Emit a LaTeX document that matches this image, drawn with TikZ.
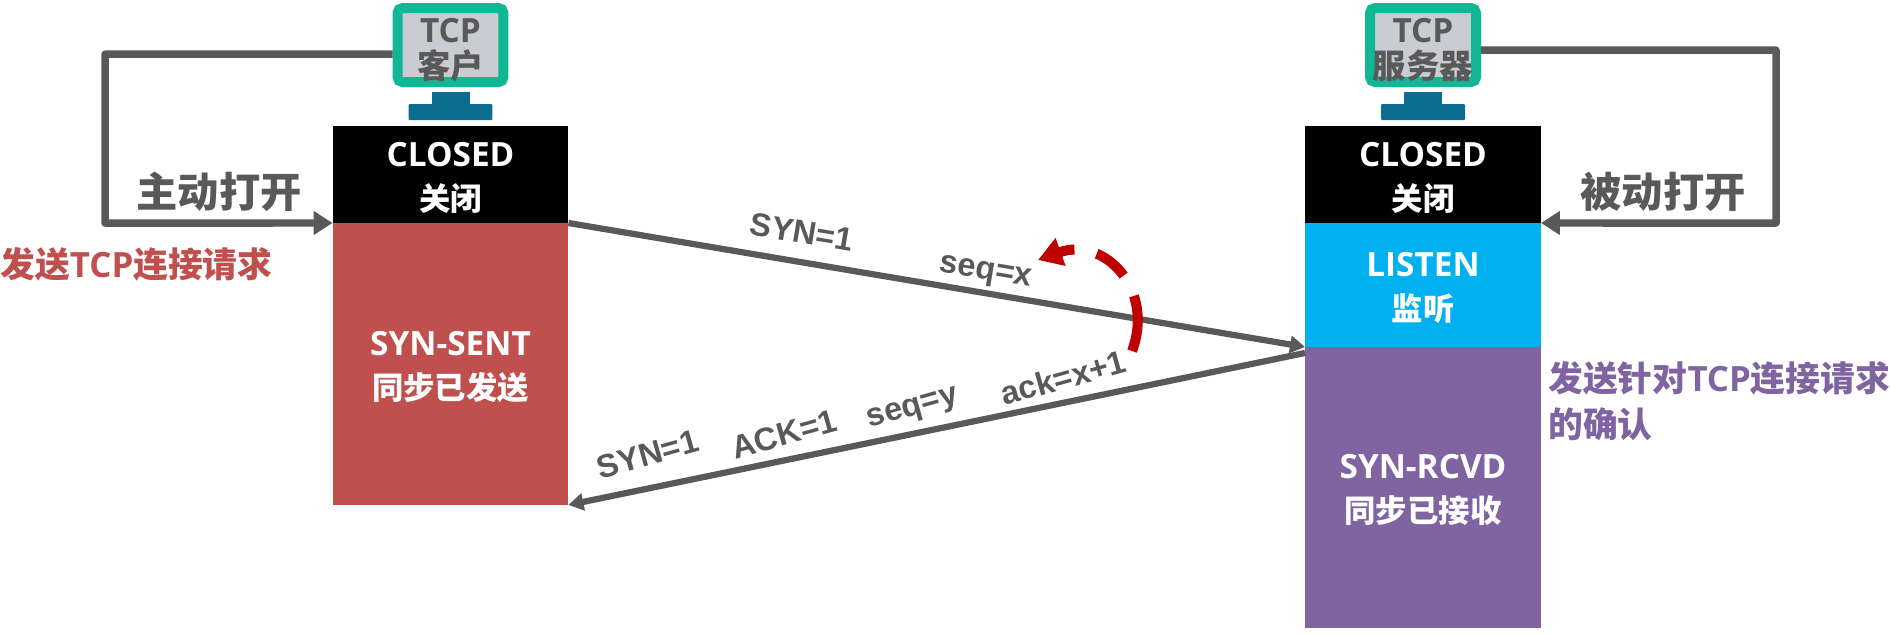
\documentclass[tikz,border=0pt]{standalone}
\usepackage{fontspec}
\setmainfont{Open Sans}
\newfontfamily\cjk{Noto Sans CJK SC}
\newfontfamily\cjkstate[Scale=0.94]{Noto Sans CJK SC}
\newfontfamily\arial{Liberation Sans}
\usetikzlibrary{arrows.meta, positioning, calc}
\definecolor{lineGray}{HTML}{595959}
\definecolor{monTeal}{HTML}{10B795}
\definecolor{monFace}{HTML}{C9CCD1}
\definecolor{standBlue}{HTML}{0B6E91}
\definecolor{sentRed}{HTML}{C0504D}
\definecolor{listenBlue}{HTML}{00B0F0}
\definecolor{rcvdPurple}{HTML}{8064A2}
\definecolor{arcRed}{HTML}{C00000}
\newcommand{\statelines}[2]{\raisebox{-1.7pt}[\height][\depth]{#1} \\ \raisebox{-1.7pt}[\height][\depth]{\cjkstate #2}}
\newcommand{\monlines}[2]{\raisebox{-3pt}[\height][\depth]{#1} \\ \raisebox{-3pt}[\height][\depth]{\cjk #2}}

\begin{document}
\begin{tikzpicture}[x=0.02cm, y=-0.02cm,
  state/.style={rectangle, minimum width=4.72cm, outer sep=0pt, inner sep=0pt, text=white, align=center, font=\bfseries\fontsize{19}{25}\selectfont},
  monitor/.style={rectangle, draw=monTeal, fill=monFace, line width=0.2cm, rounded corners=0.1cm, minimum width=2.12cm, minimum height=1.48cm, inner xsep=0pt, inner ysep=-8pt, text=lineGray, align=center, font=\bfseries\fontsize{19}{20.5}\selectfont},
  neck/.style={rectangle, fill=standBlue, minimum width=0.76cm, minimum height=0.26cm, inner sep=0pt, outer sep=0pt},
  base/.style={rectangle, fill=standBlue, rounded corners=0.02cm, minimum width=1.68cm, minimum height=0.32cm, inner sep=0pt, outer sep=0pt},
  flow/.style={draw=lineGray, line width=0.15cm, line join=round, -{Triangle[length=0.38cm, width=0.46cm]}},
  msg/.style={draw=lineGray, line width=0.125cm, -{Triangle[length=0.3cm, width=0.34cm]}},
  msglabel/.style={sloped, text=lineGray, inner sep=0pt, font=\arial\bfseries\fontsize{18.5}{20}\selectfont},
  openlabel/.style={text=lineGray, font=\cjk\bfseries\fontsize{23.5}{26}\selectfont},
  note/.style={align=left, anchor=west, inner sep=0pt, font=\bfseries\fontsize{19.8}{26}\selectfont}
]
\useasboundingbox (0,0) rectangle (1890,633);

\node (closedC) [state, fill=black, minimum height=1.94cm] at (450.5,174.5) {\statelines{CLOSED}{关闭}};
\node (sentC) [state, fill=sentRed, minimum height=5.64cm, below=0pt of closedC] {\statelines{SYN-SENT}{同步已发送}};
\node (baseC) [base, above=0.12cm of closedC] {};
\node (neckC) [neck, above=-0.02cm of baseC] {};
\node (monC) [monitor, above=0.1cm of neckC] {\monlines{TCP}{客户}};

\node (closedS) [state, fill=black, minimum height=1.94cm] at (1423,174.5) {\statelines{CLOSED}{关闭}};
\node (listenS) [state, fill=listenBlue, minimum height=2.48cm, below=0pt of closedS] {\statelines{LISTEN}{监听}};
\node (rcvdS) [state, fill=rcvdPurple, minimum height=5.62cm, below=0pt of listenS] {\statelines{SYN-RCVD}{同步已接收}};
\node (baseS) [base, above=0.12cm of closedS] {};
\node (neckS) [neck, above=-0.02cm of baseS] {};
\node (monS) [monitor, above=0.1cm of neckS] {\monlines{TCP}{服务器}};

\coordinate (cornerC) at (105,223);
\coordinate (cornerS) at (1776,223);
\draw[flow] (monC.189) -| (cornerC) -- (closedC.south west);
\draw[flow] (monS.-5) -| (cornerS) -- (closedS.south east);
\node (openC) [openlabel] at (219,192) {主动打开};
\node (openS) [openlabel] at (1663,192) {被动打开};

\draw[msg] (closedC.south east) -- (listenS.south west)
  node (synA) [msglabel, pos=0.31, above=0.3cm] {SYN=1}
  node (seqA) [msglabel, pos=0.562, above=0.08cm] {seq=x};
\draw[msg] ($(rcvdS.north west)+(0,6)$) -- (sentC.south east)
  node (ackB) [msglabel, rotate=4, pos=0.32, above=0.2cm] {ack=x+1}
  node (seqB) [msglabel, rotate=4, pos=0.524, above=0.16cm] {seq=y}
  node (ackflag) [msglabel, rotate=4, pos=0.699, above=0.22cm] {ACK=1}
  node (synB) [msglabel, rotate=4, pos=0.882, above=0.38cm] {SYN=1};

\coordinate (arcStart) at (1132,351);
\coordinate (arcEnd) at (1038,260);
\draw[arcRed, line width=0.2cm, dash pattern=on 32pt off 13pt on 20pt off 13pt on 60pt off 1pt, -{Triangle[length=0.48cm, width=0.56cm]}] (arcStart) .. controls (1155,290) and (1105,236) .. (arcEnd);

\node (noteC) [note, text=sentRed] at (0,264) {{\cjk 发送}TCP{\cjk 连接请求}};
\node (noteS) [note, text=rcvdPurple] at (1548,401) {{\cjk 发送针对}TCP{\cjk 连接请求} \\ {\cjk 的确认}};
\end{tikzpicture}
\end{document}
